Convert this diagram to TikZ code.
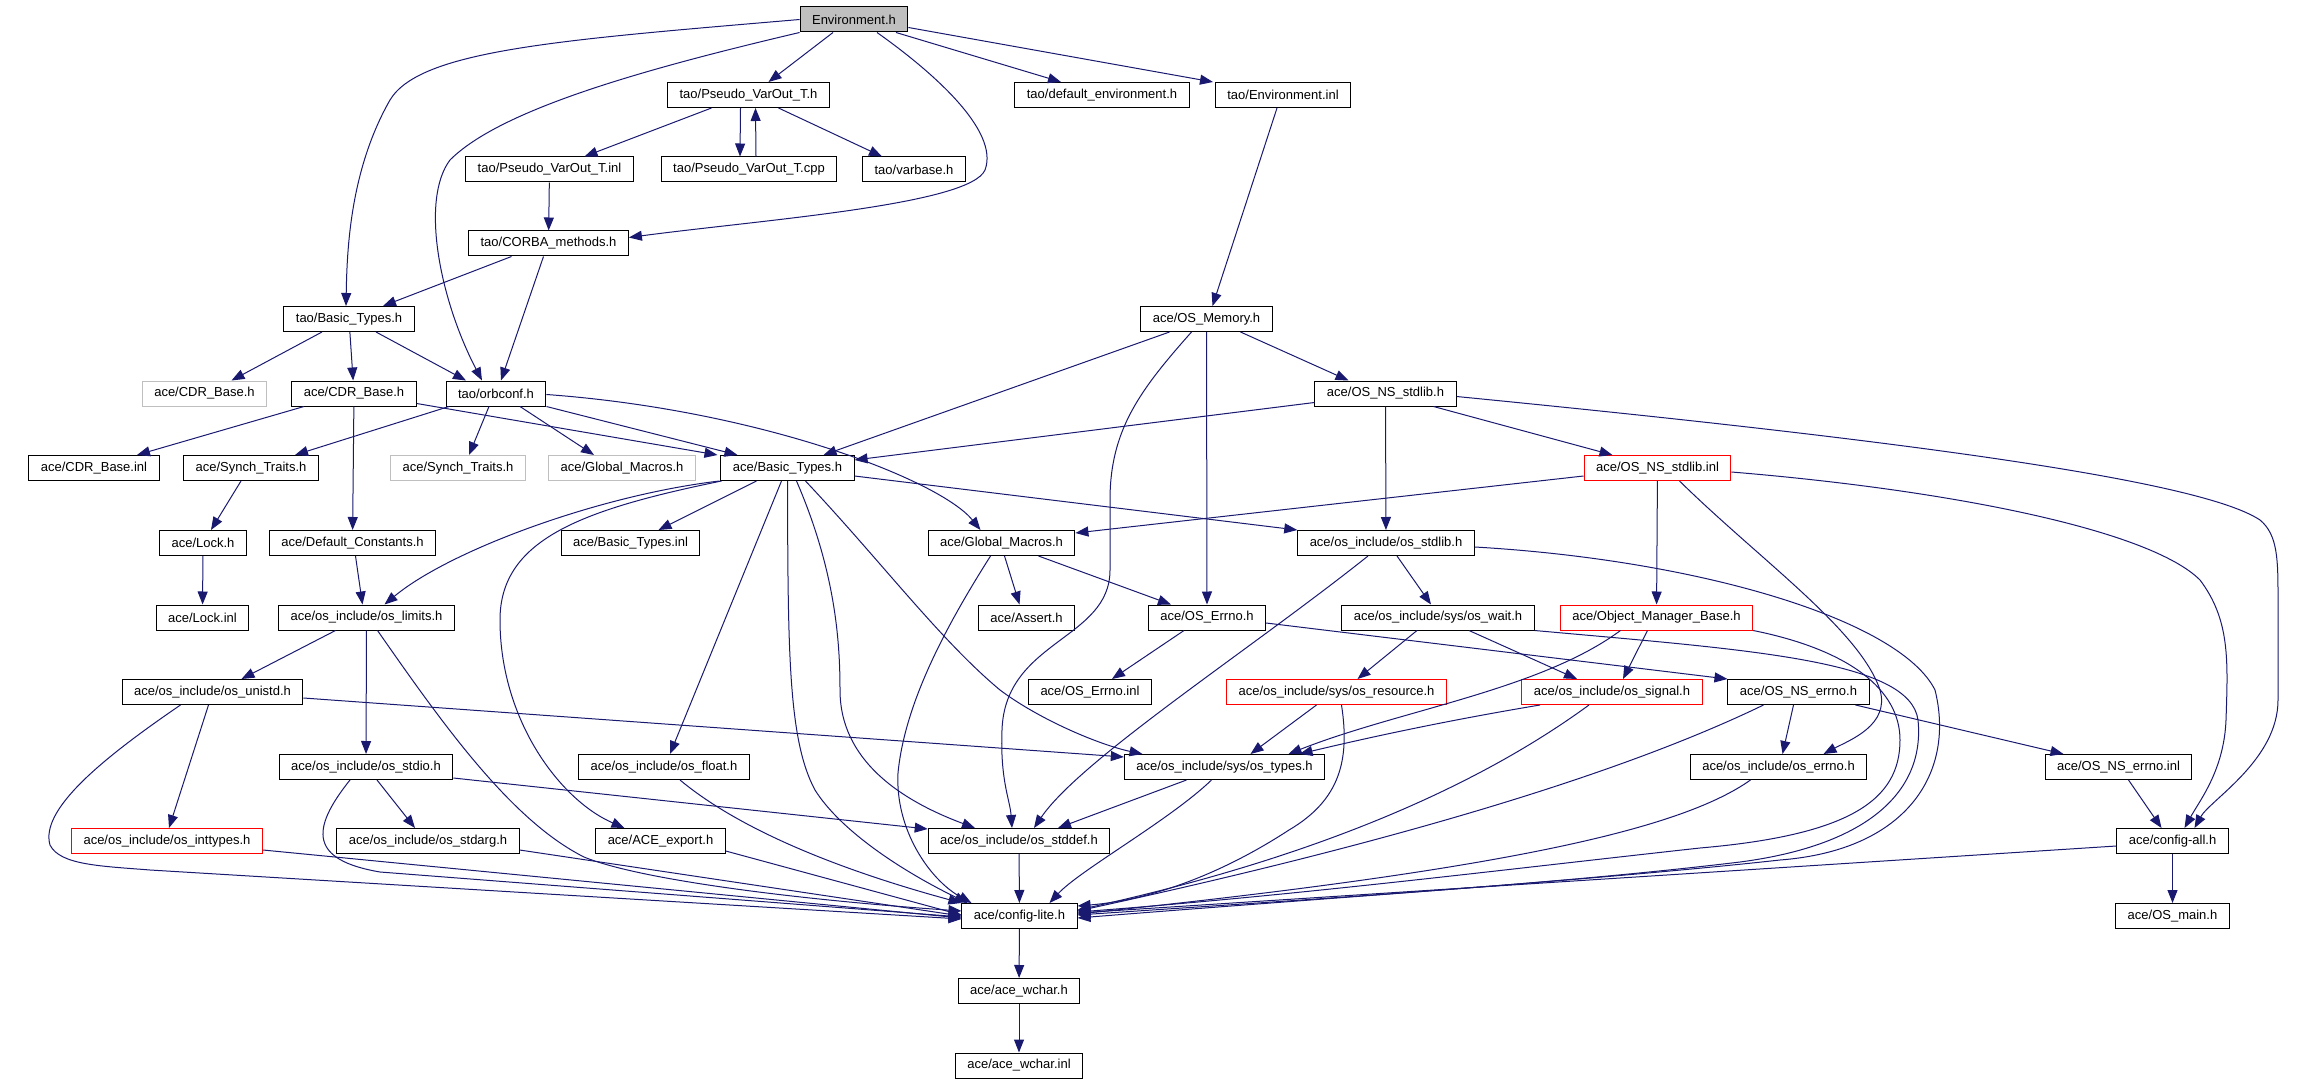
\documentclass[tikz,border=0pt]{standalone}
\usepackage{fontspec}
\setmainfont{Liberation Sans}
\usetikzlibrary{arrows.meta}
\definecolor{edgeblue}{RGB}{25,25,112}
\definecolor{boxgray}{RGB}{191,191,191}
\tikzset{
  hdr/.style={draw=black, fill=white, line width=1pt, minimum height=25pt, inner xsep=12pt, inner ysep=0pt, font=\fontsize{13}{15}\selectfont},
  hdrgray/.style={hdr, draw=boxgray},
  hdrred/.style={hdr, draw=red},
  dep/.style={draw=edgeblue, line width=1pt, -{Triangle[length=13pt,width=10pt]}},
}
\begin{document}
\begin{tikzpicture}[x=1pt, y=-1pt]
\useasboundingbox (0,0) rectangle (2297,1083);
\node[hdr, fill=boxgray] (env) at (854,19.5) {Environment.h};
\node[hdr] (pvh) at (748.5,95) {tao/Pseudo\_VarOut\_T.h};
\node[hdr] (defenv) at (1102,95) {tao/default\_environment.h};
\node[hdr] (envinl) at (1283,95) {tao/Environment.inl};
\node[hdr] (pvinl) at (549.5,169.5) {tao/Pseudo\_VarOut\_T.inl};
\node[hdr] (pvcpp) at (749,169.5) {tao/Pseudo\_VarOut\_T.cpp};
\node[hdr] (varbase) at (914,169.5) {tao/varbase.h};
\node[hdr] (corba) at (548.5,243.5) {tao/CORBA\_methods.h};
\node[hdr] (taobt) at (349,319) {tao/Basic\_Types.h};
\node[hdr] (osmem) at (1206.5,319) {ace/OS\_Memory.h};
\node[hdrgray] (cdrgray) at (204.5,393.5) {ace/CDR\_Base.h};
\node[hdr] (cdrh) at (354,393.5) {ace/CDR\_Base.h};
\node[hdr] (orbconf) at (496,393.5) {tao/orbconf.h};
\node[hdr] (nsstdlib) at (1385.5,393.5) {ace/OS\_NS\_stdlib.h};
\node[hdr] (cdrinl) at (94,468) {ace/CDR\_Base.inl};
\node[hdr] (synch) at (251,468) {ace/Synch\_Traits.h};
\node[hdrgray] (synchgray) at (458,468) {ace/Synch\_Traits.h};
\node[hdrgray] (gmgray) at (622,468) {ace/Global\_Macros.h};
\node[hdr] (acebt) at (787.5,468) {ace/Basic\_Types.h};
\node[hdrred] (nsstdlibinl) at (1657.5,468) {ace/OS\_NS\_stdlib.inl};
\node[hdr] (lock) at (203,543) {ace/Lock.h};
\node[hdr] (defconst) at (352.5,543) {ace/Default\_Constants.h};
\node[hdr] (btinl) at (630.5,543) {ace/Basic\_Types.inl};
\node[hdr] (gm) at (1001.5,543) {ace/Global\_Macros.h};
\node[hdr] (osstdlib) at (1386,543) {ace/os\_include/os\_stdlib.h};
\node[hdr] (lockinl) at (202.5,617.5) {ace/Lock.inl};
\node[hdr] (limits) at (366.5,617.5) {ace/os\_include/os\_limits.h};
\node[hdr] (assert) at (1026.5,617.5) {ace/Assert.h};
\node[hdr] (errno) at (1207,617.5) {ace/OS\_Errno.h};
\node[hdr] (wait) at (1438,617.5) {ace/os\_include/sys/os\_wait.h};
\node[hdrred] (omb) at (1656.5,617.5) {ace/Object\_Manager\_Base.h};
\node[hdr] (unistd) at (212.5,692) {ace/os\_include/os\_unistd.h};
\node[hdr] (errnoinl) at (1090,692) {ace/OS\_Errno.inl};
\node[hdrred] (resource) at (1336.5,692) {ace/os\_include/sys/os\_resource.h};
\node[hdrred] (signal) at (1612,692) {ace/os\_include/os\_signal.h};
\node[hdr] (nserrno) at (1798.5,692) {ace/OS\_NS\_errno.h};
\node[hdr] (stdio) at (366,767) {ace/os\_include/os\_stdio.h};
\node[hdr] (float) at (664,767) {ace/os\_include/os\_float.h};
\node[hdr] (types) at (1224.5,767) {ace/os\_include/sys/os\_types.h};
\node[hdr] (oserrno) at (1778.5,767) {ace/os\_include/os\_errno.h};
\node[hdr] (nserrnoinl) at (2118.5,767) {ace/OS\_NS\_errno.inl};
\node[hdrred] (inttypes) at (167,841) {ace/os\_include/os\_inttypes.h};
\node[hdr] (stdarg) at (428,841) {ace/os\_include/os\_stdarg.h};
\node[hdr] (export) at (660.5,841) {ace/ACE\_export.h};
\node[hdr] (stddef) at (1019,841) {ace/os\_include/os\_stddef.h};
\node[hdr] (configall) at (2172.5,841) {ace/config-all.h};
\node[hdr] (configlite) at (1019.5,916) {ace/config-lite.h};
\node[hdr] (osmain) at (2172.5,916) {ace/OS\_main.h};
\node[hdr] (wchar) at (1019,991) {ace/ace\_wchar.h};
\node[hdr] (wcharinl) at (1019,1065.5) {ace/ace\_wchar.inl};
% Environment.h
\draw[dep] (env.west) .. controls (560,40) and (420,50) .. (390,100) .. controls (350,170) and (347,250) .. ([xshift=-3pt]taobt.north);
\draw[dep] (env.south west) .. controls (640,70) and (500,110) .. (450,160) .. controls (420,200) and (440,300) .. ([xshift=-14pt]orbconf.north);
\draw[dep] ([xshift=-21pt]env.south) -- ([xshift=20pt]pvh.north);
\draw[dep] ([xshift=23pt]env.south) .. controls (930,70) and (1000,130) .. (985,170) .. controls (970,205) and (760,220) .. ([yshift=6pt]corba.east);
\draw[dep] ([xshift=42pt]env.south) -- ([xshift=-41pt]defenv.north);
\draw[dep] ([yshift=-8pt]env.east) -- ([xshift=-70pt]envinl.north);
% tao
\draw[dep] ([xshift=-37pt]pvh.south) -- ([xshift=35pt]pvinl.north);
\draw[dep] ([xshift=-8pt]pvh.south) -- ([xshift=-9pt]pvcpp.north);
\draw[dep] ([xshift=7pt]pvcpp.north) -- ([xshift=7pt]pvh.south);
\draw[dep] ([xshift=30pt]pvh.south) -- ([xshift=-32pt]varbase.north);
\draw[dep] (pvinl) -- (corba);
\draw[dep] ([xshift=-37pt]corba.south) -- ([xshift=34pt]taobt.north);
\draw[dep] ([xshift=-5pt]corba.south) -- ([xshift=5pt]orbconf.north);
\draw[dep] ([xshift=-6pt]envinl.south) -- ([xshift=6pt]osmem.north);
\draw[dep] ([xshift=-27pt]taobt.south) -- ([xshift=27pt]cdrgray.north);
\draw[dep] (taobt) -- (cdrh);
\draw[dep] ([xshift=27pt]taobt.south) -- ([xshift=-30pt]orbconf.north);
\draw[dep] ([xshift=-50pt]cdrh.south) -- ([xshift=43pt]cdrinl.north);
\draw[dep] (cdrh) -- (defconst);
\draw[dep] ([yshift=-10pt]cdrh.east) -- ([xshift=-70pt]acebt.north);
\draw[dep] ([xshift=-47pt]orbconf.south) -- ([xshift=44pt]synch.north);
\draw[dep] ([xshift=-7pt]orbconf.south) -- ([xshift=11pt]synchgray.north);
\draw[dep] ([xshift=24pt]orbconf.south) -- ([xshift=-28pt]gmgray.north);
\draw[dep] (orbconf.south east) -- ([xshift=-50pt]acebt.north);
\draw[dep] ([yshift=-1pt]orbconf.east) .. controls (760,410) and (940,480) .. ([xshift=-21pt]gm.north);
\draw[dep] ([xshift=-10pt]synch.south) -- ([xshift=8pt]lock.north);
\draw[dep] (lock) -- (lockinl);
\draw[dep] ([xshift=3pt]defconst.south) -- ([xshift=-4pt]limits.north);
% ace/Basic_Types.h
\draw[dep] ([xshift=-68pt]acebt.south) .. controls (600,495) and (450,550) .. ([xshift=18pt]limits.north);
\draw[dep] ([xshift=-31pt]acebt.south) -- ([xshift=28pt]btinl.north);
\draw[dep] ([xshift=-66pt]acebt.south) .. controls (580,510) and (500,540) .. (500,620) .. controls (500,720) and (560,800) .. ([xshift=-36pt]export.north);
\draw[dep] ([xshift=-6pt]acebt.south) -- ([xshift=6pt]float.north);
\draw[dep] (acebt.south) .. controls (788,650) and (788,740) .. (815,790) .. controls (840,830) and (900,870) .. ([xshift=-52pt]configlite.north);
\draw[dep] ([xshift=9pt]acebt.south) .. controls (835,570) and (840,640) .. (840,690) .. controls (840,760) and (900,800) .. ([xshift=-44pt]stddef.north);
\draw[dep] ([xshift=18pt]acebt.south) .. controls (880,560) and (940,640) .. (1000,690) .. controls (1040,720) and (1100,745) .. ([xshift=-82pt]types.north);
\draw[dep] ([yshift=-8pt]acebt.east) -- (osstdlib.north west);
% ace/OS_Memory.h
\draw[dep] ([xshift=-37pt]osmem.south) -- ([xshift=36pt]acebt.north);
\draw[dep] ([xshift=-15pt]osmem.south) .. controls (1140,390) and (1110,430) .. (1110,500) -- (1110,570) .. controls (1110,640) and (1005,640) .. (1002,730) .. controls (1000,780) and (1010,800) .. ([xshift=-7pt]stddef.north);
\draw[dep] (osmem) -- (errno);
\draw[dep] ([xshift=34pt]osmem.south) -- ([xshift=-37pt]nsstdlib.north);
\draw[dep] ([yshift=-9pt]nsstdlib.west) -- ([yshift=8pt]acebt.east);
\draw[dep] (nsstdlib) -- (osstdlib);
\draw[dep] ([xshift=48pt]nsstdlib.south) -- ([xshift=-45pt]nsstdlibinl.north);
\draw[dep] ([yshift=-3pt]nsstdlib.east) .. controls (1900,440) and (2200,480) .. (2260,520) .. controls (2278,535) and (2278,560) .. (2278,600) -- (2278,700) .. controls (2278,760) and (2210,800) .. ([xshift=22pt]configall.north);
\draw[dep] ([yshift=-8pt]nsstdlibinl.west) -- ([yshift=10pt]gm.east);
\draw[dep] (nsstdlibinl) -- (omb);
\draw[dep] ([xshift=22pt]nsstdlibinl.south) .. controls (1760,560) and (1860,630) .. (1880,690) .. controls (1890,725) and (1850,740) .. ([xshift=45pt]oserrno.north);
\draw[dep] ([yshift=-4pt]nsstdlibinl.east) .. controls (1950,490) and (2150,530) .. (2200,580) .. controls (2230,620) and (2228,660) .. (2226,720) .. controls (2224,770) and (2200,800) .. ([xshift=12pt]configall.north);
% os_stdlib.h, os_wait.h
\draw[dep] ([xshift=11pt]osstdlib.south) -- ([xshift=-7pt]wait.north);
\draw[dep] ([xshift=-18pt]osstdlib.south) .. controls (1250,650) and (1080,760) .. ([xshift=15pt]stddef.north);
\draw[dep] ([yshift=-4pt]osstdlib.east) .. controls (1700,560) and (1900,620) .. (1935,690) .. controls (1955,770) and (1910,850) .. (1780,860) .. controls (1600,880) and (1300,900) .. ([yshift=-2pt]configlite.east);
\draw[dep] ([xshift=-21pt]wait.south) -- ([xshift=21pt]resource.north);
\draw[dep] ([xshift=31pt]wait.south) -- ([xshift=-35pt]signal.north);
\draw[dep] (wait.south east) .. controls (1750,650) and (1910,660) .. (1918,720) .. controls (1925,790) and (1870,845) .. (1740,862) .. controls (1550,885) and (1300,900) .. ([yshift=1pt]configlite.east);
% Object_Manager_Base.h, os_signal.h
\draw[dep] ([xshift=-36pt]omb.south) .. controls (1540,690) and (1400,710) .. ([xshift=64pt]types.north);
\draw[dep] ([xshift=-9pt]omb.south) -- ([xshift=11pt]signal.north);
\draw[dep] (omb.south east) .. controls (1850,650) and (1900,690) .. (1900,740) .. controls (1900,800) and (1850,835) .. (1700,848) .. controls (1500,870) and (1300,895) .. ([yshift=4pt]configlite.east);
\draw[dep] ([xshift=-72pt]signal.south) .. controls (1480,715) and (1400,730) .. ([xshift=75pt]types.north);
\draw[dep] ([xshift=-23pt]signal.south) .. controls (1500,770) and (1350,850) .. ([yshift=6pt]configlite.east);
% errno
\draw[dep] ([xshift=-23pt]errno.south) -- ([xshift=22pt]errnoinl.north);
\draw[dep] ([yshift=-5.5pt]errno.east) -- ([yshift=13pt]nserrno.west);
\draw[dep] ([xshift=-20pt]resource.south) -- ([xshift=26pt]types.north);
\draw[dep] ([xshift=5pt]resource.south) .. controls (1350,760) and (1340,800) .. (1289,830) .. controls (1220,875) and (1150,900) .. ([yshift=10pt]configlite.east);
\draw[dep] ([xshift=-5pt]nserrno.south) -- ([xshift=4pt]oserrno.north);
\draw[dep] ([xshift=57pt]nserrno.south) -- ([xshift=-55pt]nserrnoinl.north);
\draw[dep] ([xshift=-35pt]nserrno.south) .. controls (1650,760) and (1450,830) .. ([yshift=5pt]configlite.east);
\draw[dep] ([xshift=-28pt]oserrno.south) .. controls (1680,830) and (1500,870) .. ([yshift=2pt]configlite.east);
\draw[dep] ([xshift=10pt]nserrnoinl.south) -- ([xshift=-11pt]configall.north);
\draw[dep] ([yshift=-5pt]configall.west) -- ([yshift=3pt]configlite.east);
\draw[dep] (configall) -- (osmain);
% os_types.h, config-lite.h
\draw[dep] ([xshift=-38pt]types.south) -- ([xshift=39pt]stddef.north);
\draw[dep] ([xshift=-13pt]types.south) .. controls (1170,820) and (1080,870) .. ([xshift=30pt]configlite.north);
\draw[dep] (stddef) -- (configlite);
\draw[dep] (configlite) -- (wchar);
\draw[dep] (wchar) -- (wcharinl);
% left side
\draw[dep] ([yshift=-6pt]unistd.east) -- ([yshift=10pt]types.west);
\draw[dep] ([xshift=-4pt]unistd.south) -- ([xshift=2pt]inttypes.north);
\draw[dep] ([xshift=-32pt]unistd.south) .. controls (100,760) and (40,810) .. (50,845) .. controls (60,865) and (100,866) .. (150,870) -- ([yshift=-3pt]configlite.west);
\draw[dep] ([xshift=-31pt]limits.south) -- ([xshift=29pt]unistd.north);
\draw[dep] (limits) -- (stdio);
\draw[dep] ([xshift=11pt]limits.south) .. controls (440,720) and (510,820) .. (584,857) .. controls (640,880) and (800,900) .. ([yshift=5pt]configlite.west);
\draw[dep] ([xshift=11pt]stdio.south) -- ([xshift=-13pt]stdarg.north);
\draw[dep] ([yshift=-11pt]stdio.east) -- ([yshift=12pt]stddef.west);
\draw[dep] ([xshift=-16pt]stdio.south) .. controls (310,830) and (310,860) .. (380,872) -- ([yshift=-1pt]configlite.west);
\draw[dep] ([yshift=-9pt]inttypes.east) -- ([yshift=-2pt]configlite.west);
\draw[dep] ([yshift=-9pt]stdarg.east) -- (configlite.west);
\draw[dep] ([yshift=-10pt]export.east) -- ([yshift=1pt]configlite.west);
\draw[dep] ([xshift=16pt]float.south) .. controls (740,830) and (840,870) .. (configlite.north west);
% Global_Macros.h
\draw[dep] ([xshift=3pt]gm.south) -- ([xshift=-7pt]assert.north);
\draw[dep] ([xshift=37pt]gm.south) -- ([xshift=-36pt]errno.north);
\draw[dep] ([xshift=-11pt]gm.south) .. controls (950,620) and (905,700) .. (898,773) .. controls (895,830) and (930,880) .. ([xshift=-48pt]configlite.north);
\end{tikzpicture}
\end{document}
